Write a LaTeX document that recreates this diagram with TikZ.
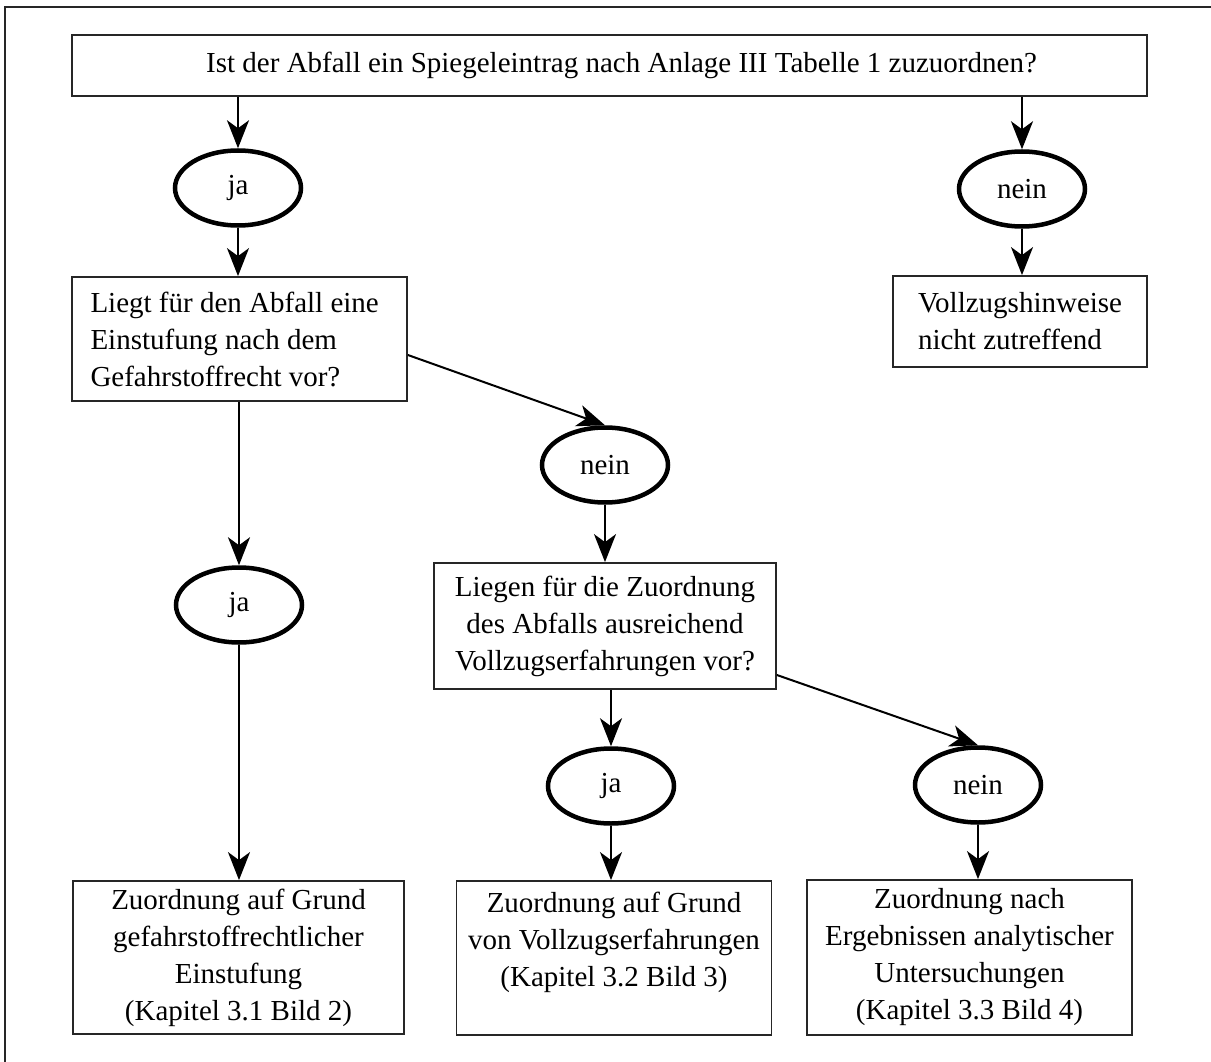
\documentclass[tikz,border=0pt]{standalone}
\usepackage{fontspec}
\setmainfont{Liberation Serif}
\usetikzlibrary{shapes.geometric,arrows.meta,calc}
\begin{document}
\begin{tikzpicture}[x=1pt,y=-1pt,
  font=\fontsize{29}{37}\selectfont,
  box/.style={draw=black!85, line width=1.8pt, rectangle, inner sep=0pt, align=center},
  yesno/.style={draw=black, line width=4.5pt, ellipse, inner sep=0pt, minimum width=126pt, minimum height=75pt},
  arr/.style={draw=black, line width=2pt, -{Stealth[length=28pt,width=22pt,inset=8pt]}},
  conn/.style={draw=black, line width=2pt}
]
\useasboundingbox (0,0) rectangle (1211,1062);
\fill[white] (0,0) rectangle (1211,1062);
% outer frame (top and left edges visible)
\draw[line width=2pt, black!85] (5,1062) -- (5,7) -- (1211,7);

\node[box, minimum width=1075pt, minimum height=61pt] (top) at (609.5,65.5)
  {\hspace*{24pt}Ist der Abfall ein Spiegeleintrag nach Anlage III Tabelle 1 zuzuordnen?};

\node[yesno] (ja1) at (238,188) {ja};
\node[yesno] (nein1) at (1022,189) {nein};

\node[box, minimum width=254pt, minimum height=91pt, align=left] (voll) at (1020,321.5)
  {\makebox[204pt][l]{\parbox{204pt}{\raggedright Vollzugshinweise\\nicht zutreffend}}};

\node[box, minimum width=335pt, minimum height=124pt, align=left] (liegt) at (239.5,339)
  {\makebox[298pt][l]{\parbox{298pt}{\raggedright Liegt für den Abfall eine\\Einstufung nach dem\\Gefahrstoffrecht vor?}}};

\node[yesno] (nein2) at (605,465) {nein};
\node[yesno] (ja2) at (239,605) {ja};

\node[box, minimum width=342pt, minimum height=126pt] (liegen) at (605,626)
  {Liegen für die Zuordnung\\des Abfalls ausreichend\\Vollzugserfahrungen vor?};

\node[yesno] (ja3) at (611,786) {ja};
\node[yesno] (nein3) at (978,785) {nein};

\node[box, minimum width=331pt, minimum height=153pt] (bl) at (238.5,957.5)
  {Zuordnung auf Grund\\gefahrstoffrechtlicher\\Einstufung\\(Kapitel 3.1 Bild 2)};
\node[box, minimum width=315pt, minimum height=154pt] (bm) at (614,958)
  {Zuordnung auf Grund\\von Vollzugserfahrungen\\(Kapitel 3.2 Bild 3)\\\mbox{}};
\node[box, minimum width=325pt, minimum height=155pt] (br) at (969.5,957.5)
  {Zuordnung nach\\Ergebnissen analytischer\\Untersuchungen\\(Kapitel 3.3 Bild 4)};

% connectors
\draw[arr] (top.south -| ja1.north) -- (ja1.north);
\draw[arr] (top.south -| nein1.north) -- (nein1.north);
\draw[arr] (ja1.south) -- (ja1.south |- liegt.north);
\draw[arr] (nein1.south) -- (nein1.south |- voll.north);
\draw[arr] ([yshift=-16pt]liegt.east) -- (nein2.north);
\draw[arr] (liegt.south -| ja2.north) -- (ja2.north);
\draw[arr] (ja2.south) -- (ja2.south |- bl.north);
\draw[arr] (nein2.south) -- (nein2.south |- liegen.north);
\draw[arr] (liegen.south -| ja3.north) -- (ja3.north);
\draw[arr] ([yshift=-49pt]liegen.east) -- (nein3.north);
\draw[arr] (ja3.south) -- (ja3.south |- bm.north);
\draw[arr] (nein3.south) -- (nein3.south |- br.north);
\end{tikzpicture}
\end{document}
